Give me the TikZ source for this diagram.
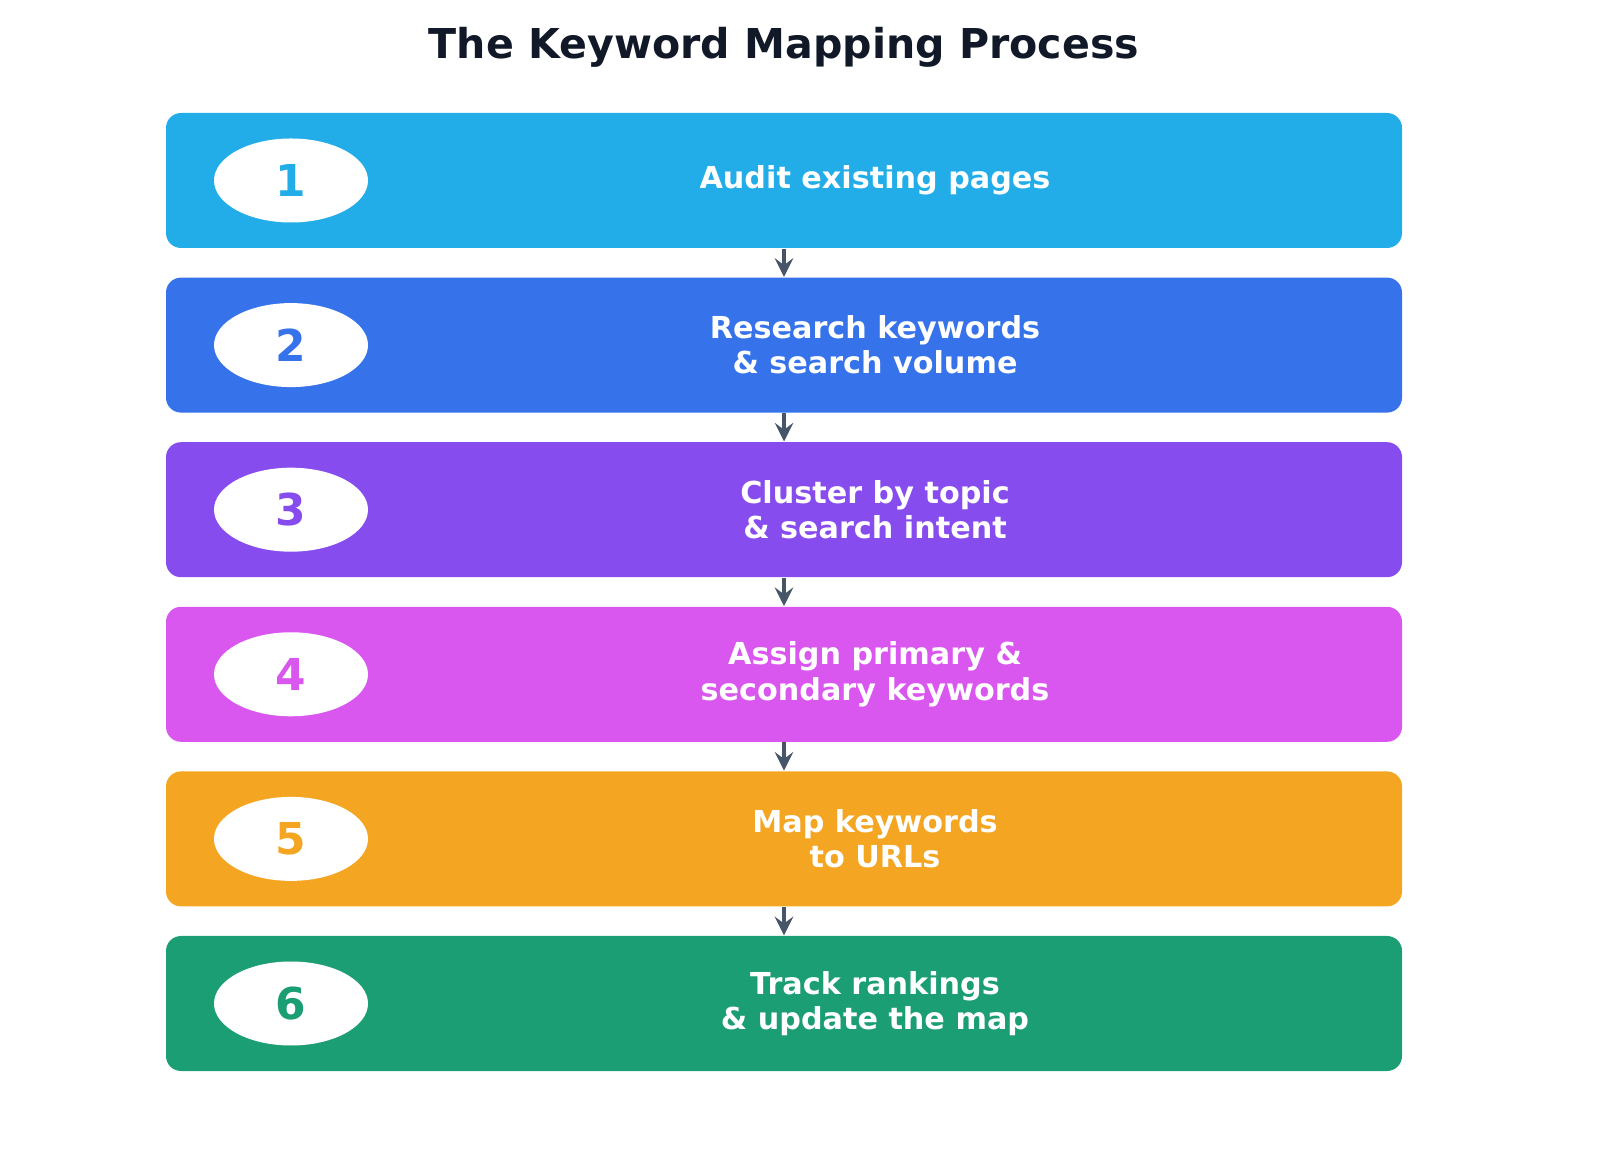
\documentclass[tikz,border=0pt]{standalone}
\usepackage{fontspec}
\setmainfont{DejaVu Sans}
\usetikzlibrary{shapes.geometric}
\definecolor{c1}{HTML}{23ADE8}
\definecolor{c2}{HTML}{3672EA}
\definecolor{c3}{HTML}{874CEE}
\definecolor{c4}{HTML}{DA57EF}
\definecolor{c5}{HTML}{F4A623}
\definecolor{c6}{HTML}{1C9E74}
\definecolor{ink}{HTML}{111827}
\definecolor{arr}{HTML}{475569}
\tikzset{stage/.style={draw=none, rounded corners=.15cm, minimum width=12.36cm,
    minimum height=1.35cm}}
\tikzset{num/.style={shape=ellipse, fill=white, minimum width=1.54cm,
    minimum height=.84cm, inner sep=0pt, font=\bfseries\fontsize{12.5}{14}\selectfont}}
\tikzset{lbl/.style={text=white, align=center, font=\bfseries\fontsize{8.6}{10}\selectfont}}
\tikzset{flow/.style={->, >=stealth, line width=1.3pt, draw=arr}}

\begin{document}
\begin{tikzpicture}[x=1cm, y=1cm]
    \useasboundingbox (0,0) rectangle (16,-11.56);
    \node[text=ink, font=\bfseries\fontsize{11.7}{14}\selectfont] (title) at (7.84,-.47)
        {The Keyword Mapping Process};
    \foreach \i/\t in {1/{Audit existing pages},
                       2/{Research keywords\\\& search volume},
                       3/{Cluster by topic\\\& search intent},
                       4/{Assign primary \&\\secondary keywords},
                       5/{Map keywords\\to URLs},
                       6/{Track rankings\\\& update the map}} {
        \pgfmathsetmacro{\y}{-1.805-(\i-1)*1.646}
        \node[stage, fill=c\i] (s\i) at (7.84,\y) {};
        \node[num, text=c\i] (n\i) at (2.91,\y) {\i};
        \node[lbl] (t\i) at (8.75,\y) {\t};
    }
    \foreach \a/\b in {1/2,2/3,3/4,4/5,5/6}
        \draw[flow] (s\a.south) -- (s\b.north);
\end{tikzpicture}
\end{document}
